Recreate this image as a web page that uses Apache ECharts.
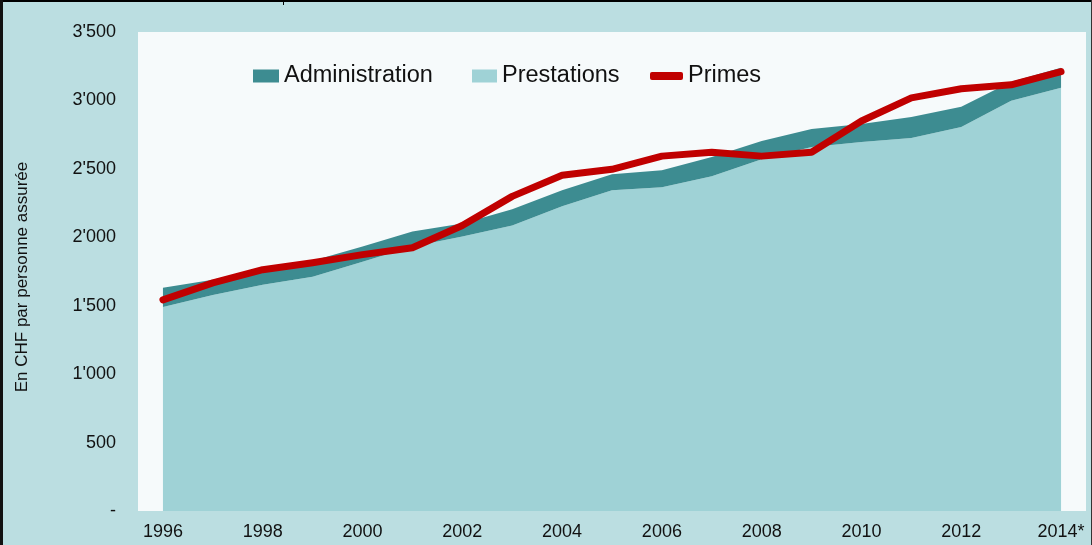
<!DOCTYPE html>
<html>
<head>
<meta charset="utf-8">
<script src="https://cdn.jsdelivr.net/npm/echarts@6/dist/echarts.min.js"></script>
<style>
html,body{margin:0;padding:0;background:#bbdee1;}
#c{width:1092px;height:545px;}
</style>
</head>
<body>
<div id="c"></div>
<script>
const years = ['1996','1997','1998','1999','2000','2001','2002','2003','2004','2005','2006','2007','2008','2009','2010','2011','2012','2013','2014*'];
const prestations = [1491,1579,1653,1711,1822,1932,2005,2086,2226,2343,2365,2446,2571,2659,2696,2725,2806,2997,3092];
const administration = [140,110,125,118,110,110,96,118,117,118,125,140,132,132,132,154,147,139,147];
const primes = [1543,1667,1763,1814,1873,1924,2086,2299,2453,2497,2593,2622,2593,2622,2850,3019,3085,3114,3210];
const yTicks = [0,500,1000,1500,2000,2500,3000,3500];

const FONT = 'Liberation Sans, Arial, Helvetica, sans-serif';
const chart = echarts.init(document.getElementById('c'));
function fmt(v){
  if (v === 0) return '-';
  const s = String(v);
  return s.length > 3 ? s.slice(0, s.length-3) + "'" + s.slice(-3) : s;
}
const legendText = {fontFamily: FONT, fontSize: 23.5, color: '#111'};
chart.setOption({
  backgroundColor: '#bbdee1',
  animation: false,
  grid: {left: 138, top: 32, right: 6, bottom: 34, show: true, backgroundColor: '#f6fafb', borderWidth: 0},
  legend: [
    {data: ['Administration'], left: 253, top: 64, itemWidth: 26, itemHeight: 13, itemGap: 3, textStyle: legendText, icon: 'rect', padding: 0},
    {data: ['Prestations'], left: 472, top: 64, itemWidth: 25, itemHeight: 13, textStyle: legendText, icon: 'rect', padding: 0},
    {data: [{name: 'Primes', icon: 'roundRect', itemStyle: {color: '#c00000'}}], left: 650, top: 64, itemWidth: 33, itemHeight: 8, textStyle: legendText, padding: 0}
  ],
  xAxis: {
    type: 'category', data: years, boundaryGap: true,
    axisLine: {show: false}, axisTick: {show: false},
    axisLabel: {interval: 1, fontFamily: FONT, fontSize: 18, color: '#111', margin: 12}
  },
  yAxis: {
    type: 'value', min: 0, max: 3500, interval: 500,
    name: 'En CHF par personne assurée', nameLocation: 'middle', nameGap: 107,
    nameTextStyle: {fontFamily: FONT, fontSize: 17, color: '#111', padding: [0, 11, 0, 0]},
    splitLine: {show: false}, axisLine: {show: false}, axisTick: {show: false},
    axisLabel: {fontFamily: FONT, fontSize: 18, color: '#111', margin: 22, formatter: v => yTicks.indexOf(v) >= 0 ? fmt(v) : ''}
  },
  series: [
    {name: 'Prestations', type: 'line', stack: 'tot', data: prestations, symbol: 'none',
     lineStyle: {width: 0}, areaStyle: {color: '#9fd2d6', opacity: 1}, itemStyle: {color: '#9fd2d6'}, z: 1},
    {name: 'Administration', type: 'line', stack: 'tot', data: administration, symbol: 'none',
     lineStyle: {width: 0}, areaStyle: {color: '#3d8c91', opacity: 1}, itemStyle: {color: '#3d8c91'}, z: 1},
    {name: 'Primes', type: 'line', data: primes, symbol: 'none',
     lineStyle: {width: 7, color: '#c00000', cap: 'round', join: 'round'}, itemStyle: {color: '#c00000'}, z: 3}
  ],
  graphic: [
    {type: 'rect', shape: {x: 0, y: 0, width: 1092, height: 2}, style: {fill: '#000'}, silent: true},
    {type: 'rect', shape: {x: 283, y: 0, width: 1, height: 5}, style: {fill: '#000'}, silent: true},
    {type: 'rect', shape: {x: 0, y: 0, width: 3, height: 545}, style: {fill: '#111'}, silent: true},
    {type: 'rect', shape: {x: 1091, y: 0, width: 1, height: 545}, style: {fill: '#333'}, silent: true}
  ]
});
</script>
</body>
</html>
